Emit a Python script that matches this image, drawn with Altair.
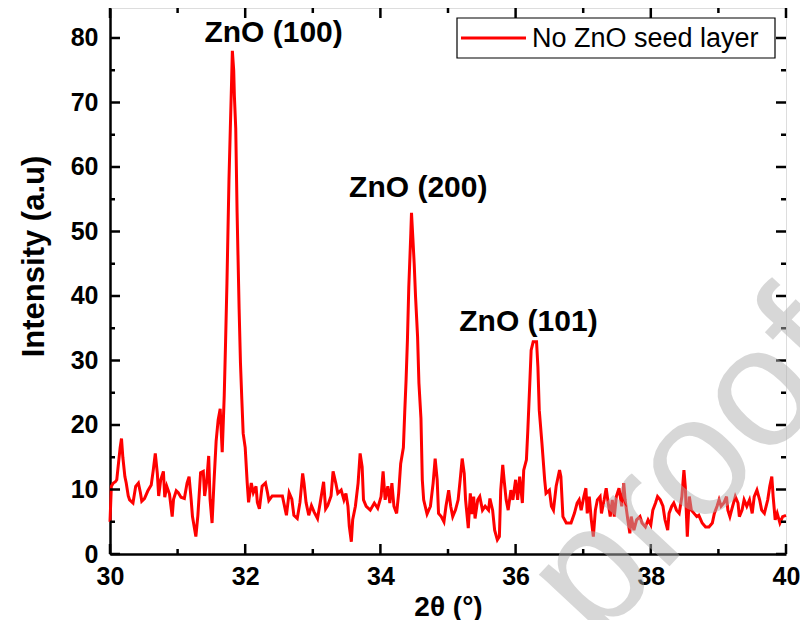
import altair as alt
import pandas as pd

two_theta = [
    30.00, 30.02, 30.05, 30.08, 30.10, 30.12, 30.15, 30.17, 30.19, 30.22, 30.24, 30.27, 30.29, 30.34,
    30.38, 30.42, 30.45, 30.47, 30.51, 30.56, 30.61, 30.64, 30.67, 30.70, 30.72, 30.75, 30.79, 30.81,
    30.84, 30.88, 30.92, 30.94, 30.98, 31.01, 31.05, 31.10, 31.14, 31.17, 31.20, 31.22, 31.27, 31.30,
    31.34, 31.38, 31.40, 31.43, 31.46, 31.48, 31.51, 31.54, 31.57, 31.60, 31.63, 31.66, 31.69, 31.71,
    31.73, 31.76, 31.78, 31.80, 31.81, 31.83, 31.84, 31.86, 31.88, 31.91, 31.93, 31.95, 31.97, 32.00,
    32.03, 32.05, 32.09, 32.12, 32.16, 32.18, 32.21, 32.25, 32.30, 32.33, 32.35, 32.40, 32.47, 32.55,
    32.59, 32.61, 32.65, 32.69, 32.72, 32.77, 32.81, 32.85, 32.87, 32.90, 32.94, 32.98, 33.02, 33.07,
    33.11, 33.16, 33.19, 33.22, 33.27, 33.30, 33.34, 33.37, 33.42, 33.46, 33.49, 33.52, 33.54, 33.57,
    33.59, 33.63, 33.67, 33.70, 33.73, 33.75, 33.79, 33.85, 33.91, 33.96, 34.01, 34.04, 34.07, 34.11,
    34.14, 34.17, 34.20, 34.24, 34.27, 34.30, 34.34, 34.36, 34.38, 34.40, 34.42, 34.45, 34.46, 34.48,
    34.50, 34.52, 34.55, 34.57, 34.60, 34.62, 34.64, 34.69, 34.74, 34.78, 34.81, 34.84, 34.86, 34.90,
    34.94, 34.97, 35.01, 35.04, 35.07, 35.11, 35.15, 35.18, 35.21, 35.24, 35.26, 35.30, 35.33, 35.35,
    35.38, 35.40, 35.44, 35.47, 35.51, 35.55, 35.60, 35.62, 35.66, 35.69, 35.73, 35.76, 35.78, 35.81,
    35.83, 35.86, 35.89, 35.93, 35.96, 36.00, 36.03, 36.06, 36.10, 36.12, 36.16, 36.18, 36.21, 36.23,
    36.26, 36.31, 36.33, 36.35, 36.39, 36.43, 36.45, 36.50, 36.53, 36.56, 36.60, 36.65, 36.67, 36.70,
    36.75, 36.82, 36.87, 36.91, 36.94, 36.97, 37.01, 37.04, 37.06, 37.09, 37.12, 37.15, 37.18, 37.21,
    37.25, 37.27, 37.31, 37.34, 37.37, 37.40, 37.43, 37.46, 37.49, 37.53, 37.57, 37.60, 37.62, 37.66,
    37.69, 37.71, 37.75, 37.79, 37.84, 37.87, 37.92, 37.96, 38.00, 38.03, 38.07, 38.10, 38.14, 38.18,
    38.21, 38.25, 38.27, 38.31, 38.34, 38.38, 38.42, 38.46, 38.49, 38.51, 38.54, 38.57, 38.60, 38.64,
    38.68, 38.71, 38.76, 38.81, 38.86, 38.91, 38.94, 38.98, 39.01, 39.04, 39.08, 39.12, 39.14, 39.17,
    39.21, 39.25, 39.29, 39.31, 39.35, 39.38, 39.42, 39.46, 39.50, 39.53, 39.57, 39.61, 39.64, 39.68,
    39.73, 39.76, 39.79, 39.81, 39.84, 39.87, 39.91, 39.95, 40.00,
]

intensity = [
    5.0, 10.5, 11.0, 11.2, 11.5, 13.5, 16.5, 17.9, 15.0, 12.0, 11.0, 9.0, 8.4, 7.9,
    10.5, 11.0, 9.5, 8.2, 8.6, 9.8, 10.7, 13.0, 15.6, 12.5, 9.0, 11.5, 12.8, 8.8,
    10.5, 9.3, 5.8, 8.5, 9.8, 9.5, 8.8, 8.6, 11.0, 12.0, 8.5, 5.8, 2.7, 6.0,
    12.6, 12.8, 9.0, 11.2, 15.2, 8.5, 4.8, 11.5, 17.5, 20.8, 22.5, 15.8, 24.6, 33.0,
    42.0, 58.0, 66.0, 73.8, 78.0, 75.0, 71.0, 66.0, 53.0, 38.0, 29.6, 24.0, 18.7, 16.5,
    11.0, 8.0, 11.0, 9.5, 10.5, 8.0, 7.0, 10.5, 11.0, 9.5, 8.3, 9.0, 9.0, 9.0,
    7.0, 6.0, 9.5, 8.5, 6.0, 5.5, 8.0, 12.5, 11.0, 8.0, 6.0, 7.5, 6.5, 5.5,
    8.0, 11.2, 7.0, 7.5, 9.0, 12.8, 11.0, 9.4, 9.9, 8.4, 9.4, 7.4, 4.3, 1.9,
    5.3, 7.4, 11.0, 15.6, 13.5, 8.4, 7.4, 6.8, 7.9, 7.1, 8.9, 12.8, 8.4, 10.5,
    7.9, 11.0, 7.4, 6.3, 9.4, 14.0, 16.5, 22.0, 27.0, 33.2, 41.4, 49.7, 52.9, 49.0,
    45.0, 39.9, 33.7, 26.5, 21.0, 11.5, 8.4, 6.2, 7.4, 11.0, 14.8, 11.5, 6.3, 5.8,
    5.0, 7.4, 9.9, 7.4, 5.8, 6.8, 8.4, 11.5, 14.8, 12.5, 8.4, 4.0, 9.4, 6.2,
    8.9, 5.5, 8.4, 8.9, 6.8, 7.4, 6.8, 8.6, 6.8, 3.7, 2.2, 2.7, 9.9, 13.8,
    11.5, 8.4, 6.8, 9.9, 8.4, 11.5, 8.4, 12.0, 7.9, 13.0, 14.6, 19.0, 26.5, 31.6,
    32.9, 32.9, 29.0, 22.3, 17.1, 11.5, 9.4, 9.9, 7.4, 6.8, 10.5, 13.0, 12.0, 5.8,
    4.8, 4.8, 6.3, 7.9, 8.4, 6.8, 8.9, 10.2, 6.3, 8.9, 5.3, 2.7, 6.8, 8.4,
    8.9, 6.3, 8.4, 10.2, 7.9, 5.8, 8.4, 5.8, 8.9, 10.2, 7.4, 11.0, 8.4, 5.3,
    3.2, 5.8, 3.7, 5.3, 5.8, 4.8, 4.2, 5.3, 4.5, 6.8, 7.9, 8.9, 8.4, 7.4,
    5.3, 3.7, 6.3, 7.4, 7.9, 6.8, 6.3, 8.9, 13.0, 10.5, 2.7, 8.9, 6.8, 6.3,
    5.8, 6.0, 4.8, 4.2, 4.2, 4.8, 6.3, 7.4, 8.4, 7.4, 7.9, 8.9, 6.8, 5.8,
    7.4, 8.9, 7.9, 5.8, 6.8, 8.4, 7.4, 8.4, 6.3, 8.9, 9.9, 8.4, 6.8, 6.3,
    8.4, 10.5, 12.0, 8.9, 5.3, 6.3, 4.8, 5.8, 6.0,
]

series_name = "No ZnO seed layer"
peak_labels = ["ZnO (100)", "ZnO (200)", "ZnO (101)"]
peak_x = [32.42, 34.56, 36.19]
peak_y = [80.8, 56.7, 36.0]
watermark = ["proof"]

x_major = [30, 32, 34, 36, 38, 40]
x_minor = [31, 33, 35, 37, 39]
y_major = [0, 10, 20, 30, 40, 50, 60, 70, 80]
y_minor = [5, 15, 25, 35, 45, 55, 65, 75]

W, H = 676, 546
FONT = "Liberation Sans"
MAJ, MIN = 10, 5

df = pd.DataFrame({"x": two_theta, "y": intensity})
ann = pd.DataFrame({"x": peak_x, "y": peak_y, "t": peak_labels})
leg = pd.DataFrame({"name": [series_name]})
wm = pd.DataFrame({"t": watermark})

xs = alt.Scale(domain=[30, 40], nice=False, zero=False)
ys = alt.Scale(domain=[0, 84.65], nice=False, zero=False)

x_axis = alt.Axis(
    orient="bottom", values=x_major, tickSize=0, labelFontSize=25, labelFont=FONT,
    labelFontWeight="bold", labelColor="black", labelPadding=10, labelFlush=False,
    title="2θ (°)", titleFont=FONT, titleFontSize=28, titleFontWeight="bold",
    titleColor="black", titlePadding=4, domainColor="black", domainWidth=2.5, grid=False)
y_axis = alt.Axis(
    orient="left", values=y_major, tickSize=0, labelFontSize=25, labelFont=FONT,
    labelFontWeight="bold", labelColor="black", labelPadding=12, labelFlush=False,
    title="Intensity (a.u)", titleFont=FONT, titleFontSize=31, titleFontWeight="bold",
    titleColor="black", titlePadding=20, titleY=248, domainColor="black", domainWidth=2.5,
    grid=False)

main = alt.Chart(df).mark_line(strokeWidth=3, color="#ff0000").encode(
    x=alt.X("x:Q", scale=xs, axis=x_axis),
    y=alt.Y("y:Q", scale=ys, axis=y_axis),
)

xt_major = pd.DataFrame({"v": x_major})
xt_minor = pd.DataFrame({"v": x_minor})
yt_major = pd.DataFrame({"v": y_major})
yt_minor = pd.DataFrame({"v": y_minor})


def xticks(d, size):
    base = alt.Chart(d).mark_rule(color="black", strokeWidth=2.5)
    enc_x = alt.X("v:Q", scale=xs, axis=None)
    bottom = base.encode(x=enc_x, y=alt.value(H), y2=alt.value(H - size))
    top = base.encode(x=enc_x, y=alt.value(0), y2=alt.value(size))
    return [bottom, top]


def yticks(d, size):
    base = alt.Chart(d).mark_rule(color="black", strokeWidth=2.5)
    enc_y = alt.Y("v:Q", scale=ys, axis=None)
    left = base.encode(y=enc_y, x=alt.value(0), x2=alt.value(size))
    right = base.encode(y=enc_y, x=alt.value(W), x2=alt.value(W - size))
    return [left, right]


tick_layers = xticks(xt_major, MAJ) + xticks(xt_minor, MIN) + yticks(yt_major, MAJ) + yticks(yt_minor, MIN)

labels = alt.Chart(ann).mark_text(
    font=FONT, fontSize=30, fontWeight="bold", color="black", align="center", baseline="middle"
).encode(
    x=alt.X("x:Q", scale=xs, axis=None),
    y=alt.Y("y:Q", scale=ys, axis=None),
    text="t:N",
)

# legend box (drawn manually, as in the original figure)
leg_box = alt.Chart(leg).mark_rect(fill="white", stroke="black", strokeWidth=1.2).encode(
    x=alt.value(347), x2=alt.value(665), y=alt.value(10), y2=alt.value(50))
leg_line = alt.Chart(leg).mark_rule(color="#ff0000", strokeWidth=3).encode(
    x=alt.value(351), x2=alt.value(416), y=alt.value(30))
leg_text = alt.Chart(leg).mark_text(
    font=FONT, fontSize=27, color="black", align="left", baseline="middle"
).encode(x=alt.value(422), y=alt.value(31), text="name:N")

wm_text = alt.Chart(wm).mark_text(
    font=FONT, fontSize=170, color="#b0b0b0", opacity=0.5, align="left",
    baseline="alphabetic", angle=313
).encode(x=alt.value(487), y=alt.value(636), text="t:N")

chart = alt.layer(
    main, *tick_layers, labels, leg_box, leg_line, leg_text, wm_text
).resolve_axis(x="independent", y="independent").properties(
    width=W, height=H,
    autosize=alt.AutoSizeParams(type="none"),
    padding={"left": 102, "top": 0, "right": 14, "bottom": 66},
).configure_view(stroke="black", strokeWidth=2.5).configure(background="white")

chart.save("out.html", embed_options={"renderer": "svg", "actions": False})
